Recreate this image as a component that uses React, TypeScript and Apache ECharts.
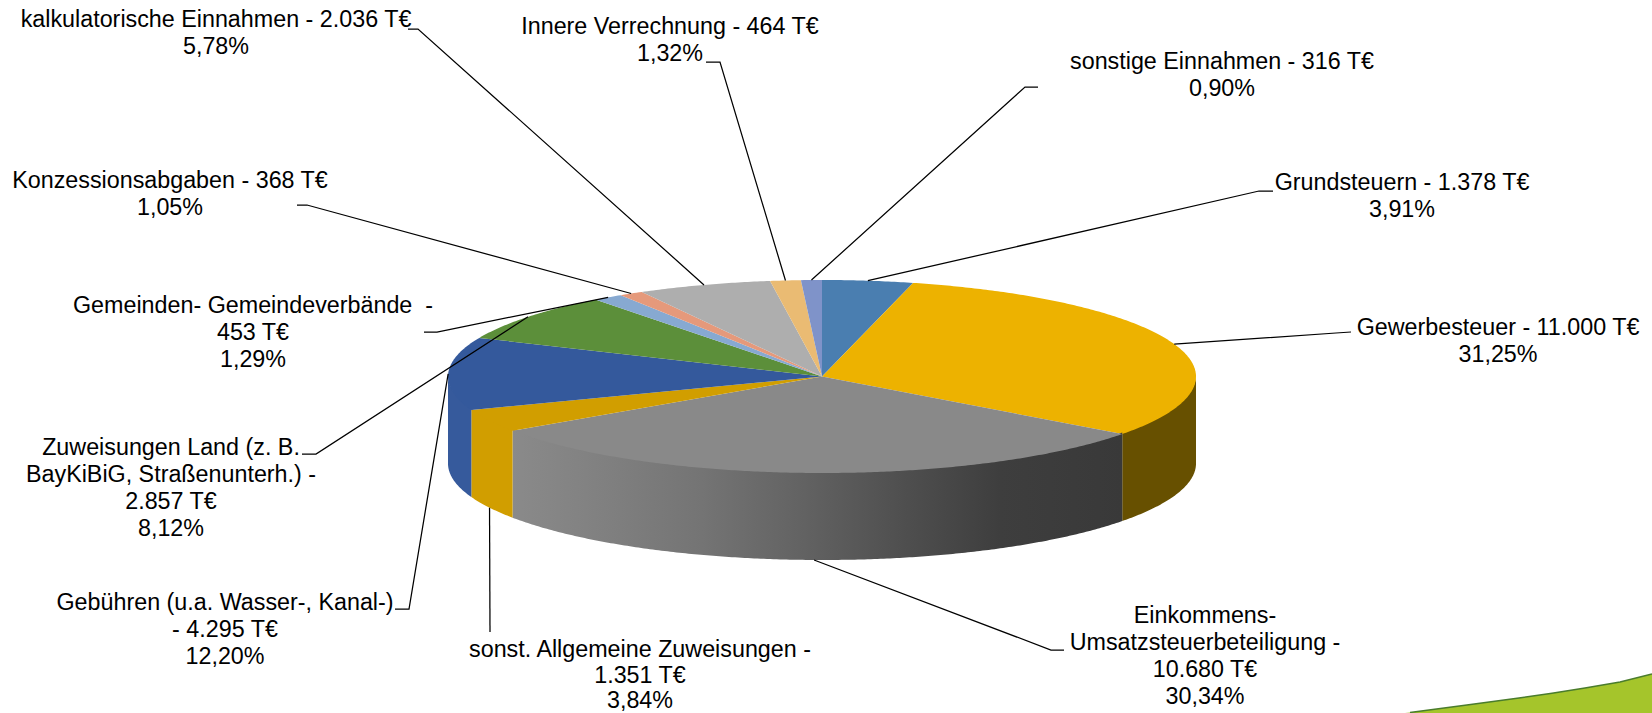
import React, { useEffect, useRef } from "react";
import * as echarts from "echarts";

const sliceNames = [
  "Grundsteuern",
  "Gewerbesteuer",
  "Einkommens-Umsatzsteuerbeteiligung",
  "sonst. Allgemeine Zuweisungen",
  "Gebühren (u.a. Wasser-, Kanal-)",
  "Zuweisungen Land (z. B. BayKiBiG, Straßenunterh.)",
  "Gemeinden- Gemeindeverbände",
  "Konzessionsabgaben",
  "kalkulatorische Einnahmen",
  "Innere Verrechnung",
  "sonstige Einnahmen",
];
const sliceValues = [1378, 11000, 10680, 1351, 4295, 2857, 453, 368, 2036, 464, 316];
const labelTexts = [
  "Grundsteuern - 1.378 T€\n3,91%",
  "Gewerbesteuer - 11.000 T€\n31,25%",
  "Einkommens-\nUmsatzsteuerbeteiligung -\n10.680 T€\n30,34%",
  "sonst. Allgemeine Zuweisungen -\n1.351 T€\n3,84%",
  "Gebühren (u.a. Wasser-, Kanal-)\n- 4.295 T€\n12,20%",
  "Zuweisungen Land (z. B.\nBayKiBiG, Straßenunterh.) -\n2.857 T€\n8,12%",
  "Gemeinden- Gemeindeverbände  -\n453 T€\n1,29%",
  "Konzessionsabgaben - 368 T€\n1,05%",
  "kalkulatorische Einnahmen - 2.036 T€\n5,78%",
  "Innere Verrechnung - 464 T€\n1,32%",
  "sonstige Einnahmen - 316 T€\n0,90%",
];

// Styling and layout, apart from the data
const topColors = ["#4a7eb0", "#edb200", "#898989", "#d19e00", "#34599c", "#5c8f3a", "#87a9d1", "#e5997b", "#aeaeae", "#eabb73", "#7f93c9"];
const wallColors = ["#33587c", "#675000", "", "#d19e00", "#365a9c", "#3f6428", "#5e7692", "#a06b56", "#7a7a7a", "#a38350", "#58668c"];
const labelAnchors: [number, number][] = [
  [1402, 182], [1498, 327], [1205, 615], [640, 649], [225, 602], [171, 447],
  [253, 305], [170, 180], [216, 19], [670, 26], [1222, 61],
];
const labelLineHeights = [27, 27, 27, 25.5, 27, 27, 27, 27, 27, 27, 27];
const leaderStarts: [number, number][][] = [
  [[1273, 191], [1259, 191]],
  [[1351, 332], [1336, 333]],
  [[1064, 650], [1051, 650]],
  [[490, 632]],
  [[395, 609], [409, 609]],
  [[302, 454], [316, 454]],
  [[424, 332], [437, 332]],
  [[297, 205], [307, 205]],
  [[408, 29], [418, 29]],
  [[706, 62], [720, 62]],
  [[1038, 87], [1025, 87]],
];
const swooshEdge: [number, number][] = [
  [1410, 712.5], [1465, 705.2], [1519, 698], [1552, 693.2], [1585, 688], [1620, 682], [1652, 674],
];
const CX = 822;
const CY = 376.5;
const RX = 374;
const RY = 96.5;
const DEPTH = 87;
const FONT = '23.3px "Liberation Sans", Arial, sans-serif';
const TOTAL = sliceValues.reduce((a, b) => a + b, 0);

const pt = (deg: number, drop = 0): [number, number] => {
  const r = (deg * Math.PI) / 180;
  return [CX + RX * Math.sin(r), CY - RY * Math.cos(r) + drop];
};
const arc = (a: number, b: number, drop = 0) => {
  const n = Math.max(2, Math.ceil(Math.abs(b - a) * 2));
  const out: [number, number][] = [];
  for (let i = 0; i <= n; i++) out.push(pt(a + ((b - a) * i) / n, drop));
  return out;
};
const greyWall = () =>
  new echarts.graphic.LinearGradient(0, 0, 1, 0, [
    { offset: 0, color: "#8a8a8a" },
    { offset: 0.15, color: "#808080" },
    { offset: 0.31, color: "#747474" },
    { offset: 0.47, color: "#636363" },
    { offset: 0.64, color: "#4f4f4f" },
    { offset: 0.8, color: "#3e3e3e" },
    { offset: 1, color: "#393939" },
  ]);

function renderSlice(params: any, api: any) {
  const i = params.dataIndex;
  const value = api.value(0);
  const before = sliceValues.slice(0, i).reduce((a, b) => a + b, 0);
  const a0 = (before / TOTAL) * 360;
  const a1 = ((before + value) / TOTAL) * 360;
  const children: any[] = [];

  // Front wall, only where the rim faces the viewer; it starts slightly under the top face to hide the seam
  const w0 = Math.max(a0, 90);
  const w1 = Math.min(a1, 270);
  if (w1 > w0) {
    children.push({
      type: "polygon",
      shape: { points: [...arc(w0, w1, -1.5), ...arc(w1, w0, DEPTH)] },
      style: { fill: wallColors[i] || greyWall() },
    });
  }
  // Top face
  children.push({
    type: "polygon",
    shape: { points: [[CX, CY], ...arc(a0, a1)] },
    style: { fill: topColors[i] },
  });
  return { type: "group", children };
}

function renderLabel(params: any, api: any) {
  const i = params.dataIndex;
  const value = api.value(0);
  const before = sliceValues.slice(0, i).reduce((a, b) => a + b, 0);
  const mid = ((before + value / 2) / TOTAL) * 360;
  const front = mid > 90 && mid < 270;
  const anchor = pt(mid, front ? DEPTH : 0);
  const [lx, ly] = labelAnchors[i];
  const lh = labelLineHeights[i];
  return {
    type: "group",
    children: [
      {
        type: "polyline",
        shape: { points: [...leaderStarts[i], anchor] },
        style: { stroke: "#000", lineWidth: 1.25, fill: "none" },
      },
      {
        type: "text",
        x: lx,
        y: ly - lh / 2,
        style: {
          text: labelTexts[i],
          font: FONT,
          fill: "#000",
          align: "center",
          verticalAlign: "top",
          lineHeight: lh,
        },
      },
    ],
  };
}

export default function App() {
  const ref = useRef<HTMLDivElement>(null);
  useEffect(() => {
    const chart = echarts.init(ref.current!, null, { renderer: "svg" });
    const rows = sliceValues.map((v, i) => ({ name: sliceNames[i], value: [v] }));
    chart.setOption({
      animation: false,
      backgroundColor: "#fff",
      tooltip: { show: false },
      series: [
        { type: "custom", coordinateSystem: "none", renderItem: renderSlice, data: rows, silent: true, z: 2 },
        { type: "custom", coordinateSystem: "none", renderItem: renderLabel, data: rows, silent: true, z: 3 },
      ],
      graphic: [
        {
          type: "polygon",
          silent: true,
          z: 1,
          shape: { points: [...swooshEdge, [1652, 713], [1405, 713]] },
          style: { fill: "#a5c52b" },
        },
        {
          type: "polyline",
          silent: true,
          z: 1,
          shape: { points: swooshEdge },
          style: { stroke: "#4a7c2c", lineWidth: 1.5, fill: "none" },
        },
      ],
    });
    return () => chart.dispose();
  }, []);
  return <div ref={ref} style={{ position: "absolute", left: 0, top: 0, width: 1652, height: 713 }} />;
}
